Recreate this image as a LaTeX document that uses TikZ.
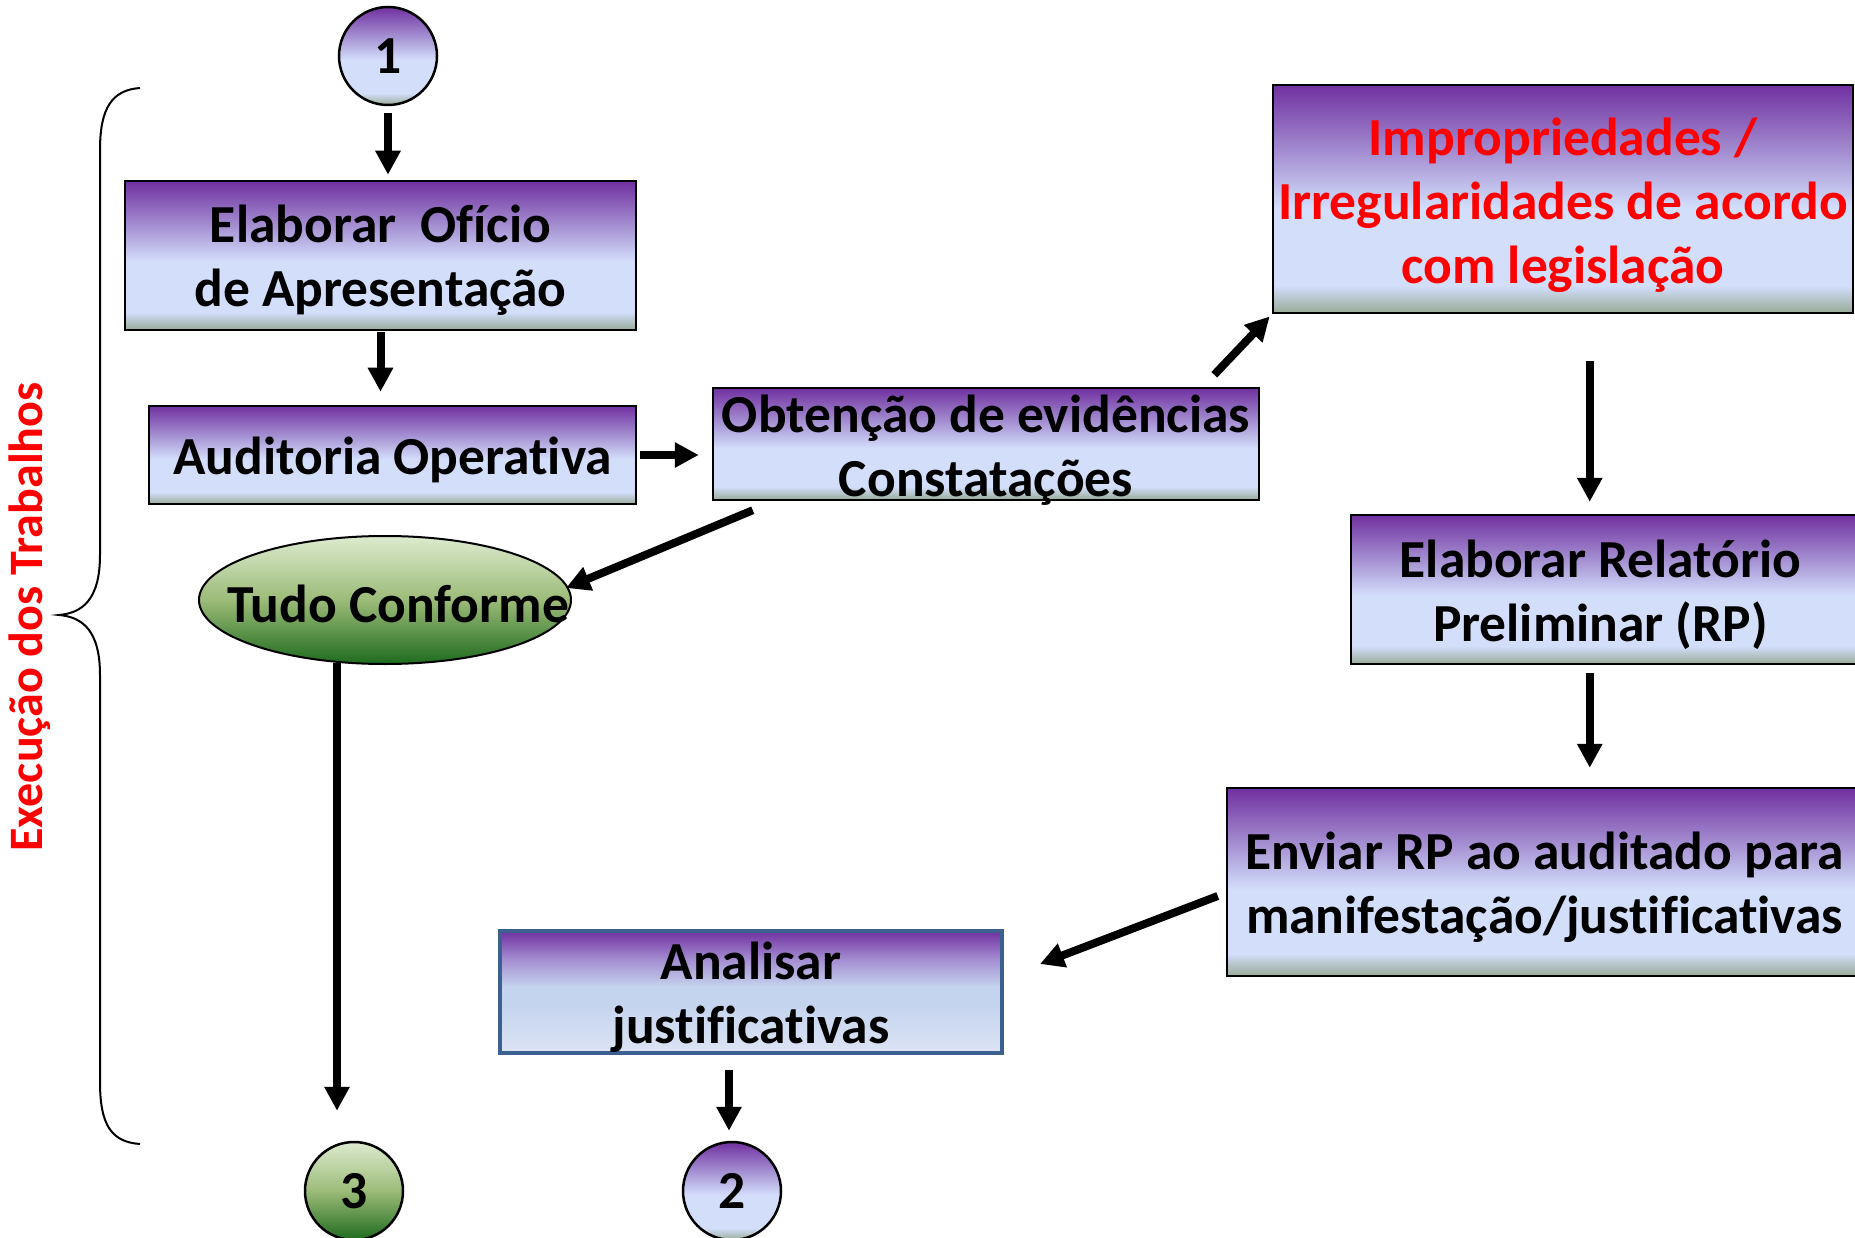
\documentclass[tikz,border=0pt]{standalone}
\usepackage{fontspec}
\setmainfont[Ligatures={NoCommon,NoContextual}]{Carlito}
\usetikzlibrary{arrows.meta,calc,shapes.geometric}
\definecolor{purp}{HTML}{7030A0}
\definecolor{midp}{HTML}{A590D2}
\definecolor{lav}{HTML}{D3DEFB}
\definecolor{grayg}{HTML}{97AB97}
\definecolor{lblue}{HTML}{C5D4EE}
\definecolor{lblue2}{HTML}{DCE4F4}
\definecolor{bordb}{HTML}{3C6090}
\definecolor{dkgreen}{HTML}{1E6B1E}
\definecolor{mgreen}{HTML}{9CBB78}
\definecolor{lgreen}{HTML}{DDEBCF}
\pgfdeclareverticalshading{purpshade}{100bp}{color(0bp)=(grayg); color(25bp)=(grayg); color(31bp)=(lav); color(48bp)=(lav); color(60bp)=(midp); color(75bp)=(purp); color(100bp)=(purp)}
\pgfdeclareverticalshading{anashade}{100bp}{color(0bp)=(lblue2); color(25bp)=(lblue2); color(45bp)=(lblue); color(52bp)=(lblue); color(63bp)=(midp); color(75bp)=(purp); color(100bp)=(purp)}
\pgfdeclareverticalshading{greenshade}{100bp}{color(0bp)=(dkgreen); color(25bp)=(dkgreen); color(50bp)=(mgreen); color(75bp)=(lgreen); color(100bp)=(lgreen)}
\tikzset{
  boxtxt/.style={font=\fontsize{53.5}{64}\selectfont\bfseries},
  box/.style={draw=black, line width=2.5pt, shading=purpshade, inner sep=0pt},
  txt/.style={label={[boxtxt, align=center, yshift=-5pt]center:#1}},
  conn/.style={circle, draw=black, line width=2.5pt, inner sep=0pt, minimum size=98pt, boxtxt},
  arr/.style={line width=8pt, -{Triangle[length=24pt,width=24pt]}},
}
\begin{document}
\begin{tikzpicture}[x=1pt,y=-1pt]
\useasboundingbox[fill=white] (0,0) rectangle (1855,1238);
% nodes
\node[conn, shading=purpshade] (c1) at (388,56) {1};
\node[box, minimum width=511pt, minimum height=149pt,
      label={[boxtxt, align=center, yshift=-5pt]center:Elaborar\ \ Ofício\\de Apresentação}] (ofi) at (380.5,255.5) {};
\node[box, minimum width=487pt, minimum height=98pt, txt=Auditoria Operativa] (aud) at (392.5,455) {};
\node[box, minimum width=546pt, minimum height=112pt,
      label={[boxtxt, align=center, yshift=-6pt]center:Obtenção de evidências\\Constatações}] (obt) at (986,444) {};
\node[box, minimum width=580pt, minimum height=228pt,
      label={[boxtxt, align=center, yshift=-6pt, text=red]center:Impropriedades /\\Irregularidades de acordo\\com legislação}] (imp) at (1563,199) {};
\node[box, minimum width=511pt, minimum height=149pt,
      label={[boxtxt, align=center, yshift=-5pt, xshift=-6pt]center:Elaborar Relatório\\Preliminar (RP)}] (rel) at (1606.5,589.5) {};
\node[box, minimum width=635pt, minimum height=188pt,
      label={[boxtxt, align=center, yshift=-5pt]center:Enviar RP ao auditado para\\manifestação/justificativas}] (env) at (1544.5,882) {};
\node[box, draw=bordb, line width=4pt, shading=anashade, minimum width=502pt, minimum height=122pt,
      label={[boxtxt, align=center, yshift=-5pt]center:Analisar\\justificativas}] (ana) at (751,992) {};
\node[ellipse, draw=black, line width=2pt, shading=greenshade, minimum width=372pt, minimum height=128pt, inner sep=0pt,
      label={[boxtxt, xshift=13pt, yshift=-4pt]center:Tudo Conforme}] (tc) at (385,600) {};
\node[conn, shading=greenshade] (c3) at (354,1191) {3};
\node[conn, shading=purpshade] (c2) at (732,1191) {2};
\node[rotate=90, text=red, font=\fontsize{48}{56}\selectfont\bfseries] (lbl) at (30,617) {Execução dos Trabalhos};
% brace
\draw[line width=2pt] (140,88) .. controls (112,90) and (100,108) .. (100,150) -- (100,555)
  .. controls (100,600) and (82,613) .. (59,615) .. controls (82,617) and (100,630) .. (100,675)
  -- (100,1082) .. controls (100,1126) and (112,1142) .. (140,1144);
% connectors
\draw[arr, shorten <=7pt, shorten >=5pt] (c1.south) -- (c1.south |- ofi.north);
\draw[arr, shorten <=1pt, shorten >=13pt] (ofi.south) -- (ofi.south |- aud.north);
\draw[arr, shorten <=3pt, shorten >=13pt] (aud.east) -- (aud.east -| obt.west);
\draw[arr, shorten >=3pt] ($(obt.north east)+(-46,-12)$) -- (imp.south west);
\draw[arr] ($(imp.south west)+(318,47)$) -- ($(rel.north west)+(240,-12)$);
\draw[arr] ($(rel.south west)+(240,8)$) -- ($(env.north west)+(364,-19)$);
\draw[arr] ($(env.west)+(-8,14)$) -- ($(ana.east)+(36,-28)$);
\draw[arr] ($(ana.south)+(-22,15)$) -- ($(c2.north)+(-3,-10)$);
\draw[arr] ($(obt.south west)+(41,9)$) -- ($(tc.east)+(-6,-12)$);
\draw[arr] ($(tc.south)+(-48,-2)$) -- ($(c3.north)+(-17,-30)$);
\end{tikzpicture}
\end{document}
